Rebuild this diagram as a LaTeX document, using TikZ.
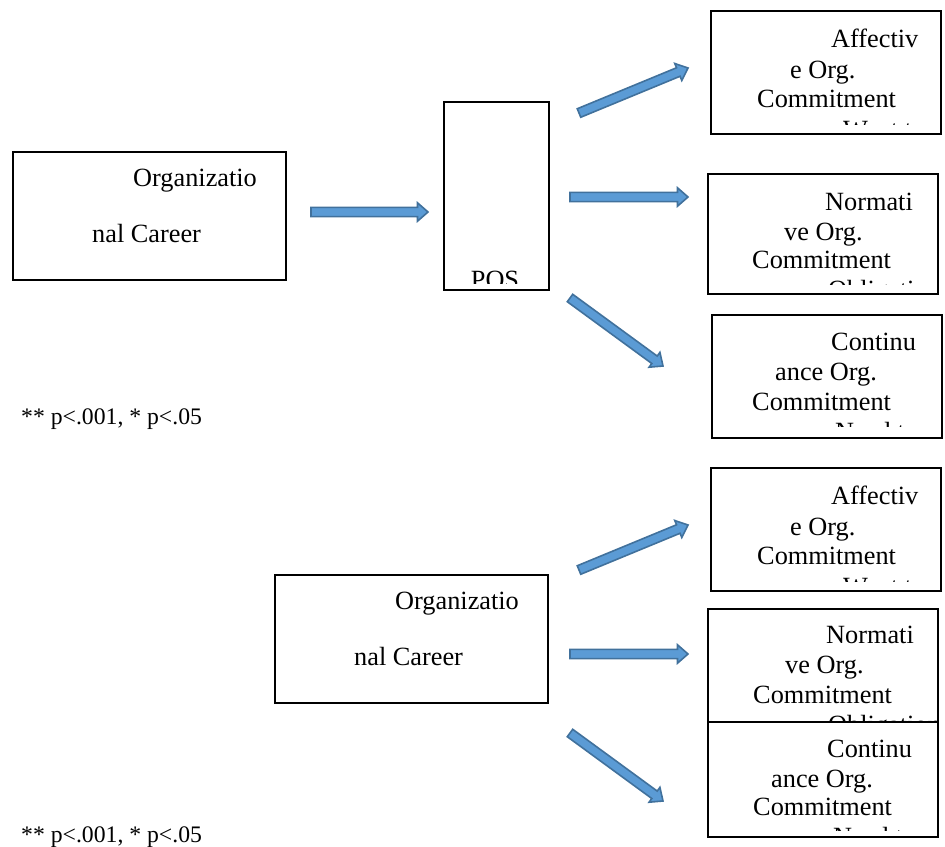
\documentclass[tikz,border=0pt]{standalone}
\usepackage{fontspec}
\setmainfont{Liberation Serif}
\usetikzlibrary{calc}
\definecolor{afill}{HTML}{5B9BD5}
\definecolor{aline}{HTML}{41719C}
\tikzset{
  box/.style={draw=black, line width=2pt, fill=white, inner sep=0pt, anchor=north west},
  lbl/.style={anchor=base west, inner sep=0pt, font=\fontsize{26.3pt}{30pt}\selectfont},
  note/.style={anchor=base west, inner sep=0pt, font=\fontsize{23.7pt}{28pt}\selectfont},
  blockarrow/.style={fill=afill, draw=aline, line width=1.6pt, line join=miter},
}
\newcommand\blockarrow[2]{%
  \path[blockarrow] let \p1=($(#2)-(#1)$), \n1={atan2(\y1,\x1)}, \n2={veclen(\x1,\y1)} in
    ($(#1)+(\n1+90:4.6pt)$)
    -- ($(#1)+(\n1:\n2-10.5pt)+(\n1+90:4.6pt)$)
    -- ($(#1)+(\n1:\n2-10.5pt)+(\n1+90:9.2pt)$)
    -- (#2)
    -- ($(#1)+(\n1:\n2-10.5pt)+(\n1-90:9.2pt)$)
    -- ($(#1)+(\n1:\n2-10.5pt)+(\n1-90:4.6pt)$)
    -- ($(#1)+(\n1-90:4.6pt)$) -- cycle;}
\newcommand\clipbox[2][11pt]{\clip (#2.north west) rectangle ($(#2.south east)+(0pt,#1)$);}
\begin{document}
\begin{tikzpicture}[x=1pt, y=-1pt]
\useasboundingbox (0,0) rectangle (945,846);

% ---------- upper figure ----------
\node[box, minimum width=273pt, minimum height=128pt] (org1) at (12,151) {};
\node[lbl] (org1a) at (133,186) {Organizatio};
\node[lbl] (org1b) at (92,242) {nal Career};

\node[box, minimum width=105pt, minimum height=188pt] (pos) at (443,101) {};
\begin{scope}\clipbox[8pt]{pos}
\node[lbl, anchor=base] (posa) at (495,288) {POS};
\end{scope}

\node[box, minimum width=230pt, minimum height=123pt] (aff1) at (710,10) {};
\begin{scope}\clipbox{aff1}
\node[lbl] (aff1a) at (831,47) {Affectiv};
\node[lbl] (aff1b) at (790,78) {e Org.};
\node[lbl] (aff1c) at (757,107) {Commitment};
\node[lbl] (aff1d) at (843,138) {Want to};
\end{scope}

\node[box, minimum width=230pt, minimum height=120pt] (nor1) at (707,173) {};
\begin{scope}\clipbox{nor1}
\node[lbl] (nor1a) at (825,210) {Normati};
\node[lbl] (nor1b) at (784,240) {ve Org.};
\node[lbl] (nor1c) at (752,268) {Commitment};
\node[lbl] (nor1d) at (828,298) {Obligation};
\end{scope}

\node[box, minimum width=230pt, minimum height=123pt] (con1) at (711,314) {};
\begin{scope}\clipbox[13pt]{con1}
\node[lbl] (con1a) at (831,350) {Continu};
\node[lbl] (con1b) at (775,380) {ance Org.};
\node[lbl] (con1c) at (752,410) {Commitment};
\node[lbl] (con1d) at (835,440) {Need to};
\end{scope}

\coordinate (a1s) at (311,212); \coordinate (a1e) at (428,212);
\coordinate (u1s) at (579,113); \coordinate (u1e) at (688,68);
\coordinate (m1s) at (570,197); \coordinate (m1e) at (688,197);
\coordinate (d1s) at (570,298); \coordinate (d1e) at (663,366);
\blockarrow{a1s}{a1e}
\blockarrow{u1s}{u1e}
\blockarrow{m1s}{m1e}
\blockarrow{d1s}{d1e}

\node[note] (note1) at (21,424) {** p<.001, * p<.05};

% ---------- lower figure ----------
\node[box, minimum width=273pt, minimum height=128pt] (org2) at (274,574) {};
\node[lbl] (org2a) at (395,609) {Organizatio};
\node[lbl] (org2b) at (354,665) {nal Career};

\node[box, minimum width=230pt, minimum height=123pt] (aff2) at (710,467) {};
\begin{scope}\clipbox{aff2}
\node[lbl] (aff2a) at (831,504) {Affectiv};
\node[lbl] (aff2b) at (790,535) {e Org.};
\node[lbl] (aff2c) at (757,564) {Commitment};
\node[lbl] (aff2d) at (843,595) {Want to};
\end{scope}

\node[box, minimum width=230pt, minimum height=121pt] (nor2) at (707,608) {};
\begin{scope}\clipbox[8pt]{nor2}
\node[lbl] (nor2a) at (826,643) {Normati};
\node[lbl] (nor2b) at (785,673) {ve Org.};
\node[lbl] (nor2c) at (753,703) {Commitment};
\node[lbl] (nor2d) at (828,733) {Obligation};
\end{scope}

\node[box, minimum width=230pt, minimum height=115pt] (con2) at (707,721) {};
\begin{scope}\clipbox[8pt]{con2}
\node[lbl] (con2a) at (827,757) {Continu};
\node[lbl] (con2b) at (771,787) {ance Org.};
\node[lbl] (con2c) at (753,815) {Commitment};
\node[lbl] (con2d) at (833,845) {Need to};
\end{scope}

\coordinate (u2s) at (579,570); \coordinate (u2e) at (688,525);
\coordinate (m2s) at (570,654); \coordinate (m2e) at (688,654);
\coordinate (d2s) at (570,733); \coordinate (d2e) at (663,801);
\blockarrow{u2s}{u2e}
\blockarrow{m2s}{m2e}
\blockarrow{d2s}{d2e}

\node[note] (note2) at (21,842) {** p<.001, * p<.05};
\end{tikzpicture}
\end{document}
